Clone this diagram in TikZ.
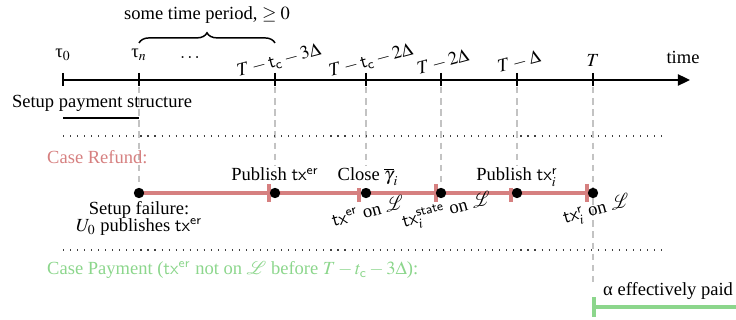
\documentclass[tikz,border=0pt]{standalone}
\usepackage{mathptmx}
\usepackage[no-math]{fontspec}
\setmainfont{Liberation Serif}
\usetikzlibrary{decorations.pathreplacing,arrows.meta}
\definecolor{refundc}{RGB}{214,128,128}
\definecolor{payc}{RGB}{140,214,140}
\definecolor{guidec}{RGB}{195,195,195}
\newcommand{\txs}{\mathsf{tx}}
\newcommand{\uptauchar}{\mbox{τ}}
\newcommand{\upalphachar}{\mbox{α}}
\begin{document}
\begin{tikzpicture}[x=0.54pt,y=-0.54pt,
  axis/.style={line width=1.1pt,-{Triangle[length=6.5pt,width=6pt]}},
  tickmark/.style={line width=0.7pt},
  guide/.style={guidec,line width=0.6pt,dash pattern=on 3.5pt off 2.5pt},
  sep/.style={black!75,line width=0.6pt,dash pattern=on 0.6pt off 3.2pt},
  dotc/.style={circle,fill=black,inner sep=0pt,minimum size=5.6pt},
  rseg/.style={refundc,line width=1.9pt},
  gseg/.style={payc,line width=1.9pt},
  lbl/.style={inner sep=1pt},
  toplbl/.style={inner sep=1pt,fill=white,anchor=base},
  rotlbl/.style={inner sep=0pt,rotate=15}]
\useasboundingbox (0,0) rectangle (736,320);

% time axis
\coordinate (axs) at (63,80);
\coordinate (axe) at (690,80);
\draw[axis] (axs) -- (axe);
\foreach \n/\x in {a/63,b/139,c/275,d/366,e/441,f/517,g/593}{
  \coordinate (tk\n) at (\x,80);
  \draw[tickmark] (\x,73) -- (\x,86);
}

% guide lines
\draw[guide] (139,87) -- (139,186);
\draw[guide] (275,87) -- (275,186);
\draw[guide] (366,87) -- (366,186);
\draw[guide] (441,87) -- (441,186);
\draw[guide] (517,87) -- (517,186);
\draw[guide] (593,87) -- (593,286);

% axis labels
\node[lbl] (l0) at (63,55) {$\uptauchar_0$};
\node[lbl] (ln) at (139,55) {$\uptauchar_n$};
\node[lbl] (ldots) at (190,58) {$\dots$};
\node[lbl,rotlbl] (l3) at (279,61) {$T-\mathsf{t_c}-3\Delta$};
\node[lbl,rotlbl] (l2) at (371,61) {$T-\mathsf{t_c}-2\Delta$};
\node[lbl,rotlbl] (l2d) at (443,62) {$T-2\Delta$};
\node[lbl,rotlbl] (l1d) at (519,62) {$T-\Delta$};
\node[lbl] (lT) at (593,60) {$T$};
\node[lbl] (ltime) at (683,57) {time};

% brace
\coordinate (brl) at (139,43);
\coordinate (brr) at (275,43);
\draw[line width=0.8pt,decorate,decoration={brace,amplitude=5.5pt}] (brl) -- (brr);
\node[lbl] (period) at (207,15) {some time period, $\geq 0$};

% setup
\node[lbl] (setup) at (102,103) {Setup payment structure};
\coordinate (usl) at (63,118);
\coordinate (usr) at (139,118);
\draw[line width=1.1pt] (usl) -- (usr);

% separators
\coordinate (s1l) at (63,136); \coordinate (s1r) at (665,136);
\coordinate (s2l) at (63,250); \coordinate (s2r) at (665,250);
\draw[sep] (s1l) -- (s1r);
\draw[sep] (s2l) -- (s2r);

% case refund
\node[lbl,anchor=west,text=refundc] (crefund) at (45,157) {Case Refund:};
\foreach \n/\x/\b in {1/139/269,2/275/359,3/366/436,4/441/511,5/517/587}{
  \coordinate (rd\n) at (\x,193);
  \coordinate (rb\n) at (\b,193);
  \draw[rseg] (rd\n) -- (rb\n);
  \draw[rseg] (\b,184) -- (\b,202);
}
\foreach \n/\x in {1/139,2/275,3/366,4/441,5/517,6/593}{
  \node[dotc] (dot\n) at (\x,193) {};
}
\node[toplbl] (pub1) at (275,181) {Publish $\txs^{\mathsf{er}}$};
\node[toplbl] (close) at (368,181) {Close $\overline{\gamma}_i$};
\node[toplbl] (pub2) at (517,181) {Publish $\txs_i^{\mathsf{r}}$};
\node[lbl,anchor=north,align=center] (fail) at (139,199) {Setup failure:\\[-2.8pt]$U_0$ publishes $\txs^{\mathsf{er}}$};
\node[rotlbl] (on1) at (368,211) {$\txs^{\mathsf{er}}$ on $\mathcal{L}$};
\node[rotlbl] (on2) at (447,211) {$\txs_i^{\mathsf{state}}$ on $\mathcal{L}$};
\node[rotlbl] (on3) at (597,211) {$\txs_i^{\mathsf{r}}$ on $\mathcal{L}$};

% case payment
\node[lbl,anchor=west,text=payc] (cpay) at (45,270) {Case Payment ($\txs^{\mathsf{er}}$ not on $\mathcal{L}$ before $T-t_{\mathsf{c}}-3\Delta$):};
\node[lbl,anchor=west] (paid) at (601,291) {$\upalphachar$ effectively paid};
\coordinate (gs) at (594,307);
\coordinate (ge) at (736,307);
\draw[gseg] (gs) -- (ge);
\draw[gseg] (594,297) -- (594,317);
\end{tikzpicture}
\end{document}
